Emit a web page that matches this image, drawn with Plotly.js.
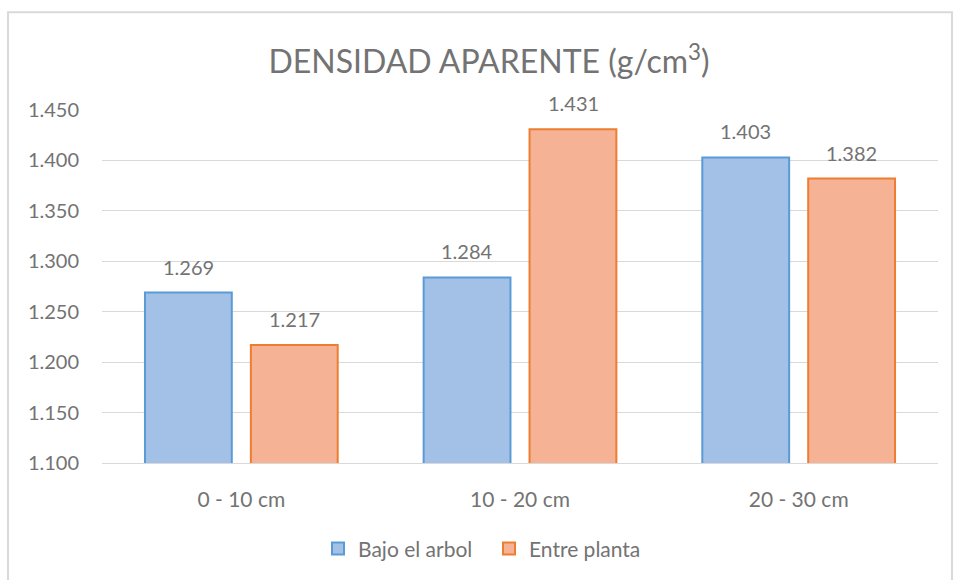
<!DOCTYPE html>
<html>
<head>
<meta charset="utf-8">
<script src="https://cdn.plot.ly/plotly-3.0.1.min.js"></script>
<style>html,body{margin:0;padding:0;background:#fff;}#chart{width:953px;height:580px;}</style>
</head>
<body>
<div id="chart"></div>
<script>
const categories = ["0 - 10 cm", "10 - 20 cm", "20 - 30 cm"];
const seriesNames = ["Bajo el arbol", "Entre planta"];
const bajoElArbol = [1.269, 1.284, 1.403];
const entrePlanta = [1.217, 1.431, 1.382];
const yTicks = [1.10, 1.15, 1.20, 1.25, 1.30, 1.35, 1.40, 1.45];

const font = "Lato, 'Open Sans', sans-serif";
const textColor = "#737373";

const traces = [
  {type: "bar", name: seriesNames[0], x: categories, y: bajoElArbol,
   marker: {color: "#a3c0e6", line: {color: "#5b9bd5", width: 2}}, hoverinfo: "y"},
  {type: "bar", name: seriesNames[1], x: categories, y: entrePlanta,
   marker: {color: "#f5b294", line: {color: "#ed7d31", width: 2}}, hoverinfo: "y"}
];

const annotations = [];
[bajoElArbol, entrePlanta].forEach((vals, si) => {
  vals.forEach((v, i) => {
    annotations.push({x: categories[i], y: v, xref: "x", yref: "y",
      text: v.toFixed(3), showarrow: false, xshift: si === 0 ? -53 : 53, yshift: 26,
      yanchor: "middle", font: {family: font, size: 20, color: textColor}});
  });
});

const layout = {
  width: 953, height: 580,
  margin: {l: 102, r: 15, t: 110, b: 116},
  paper_bgcolor: "#fff", plot_bgcolor: "#fff",
  title: {text: "DENSIDAD APARENTE (g/cm<sup>3</sup>)", x: 489/953, xref: "container", xanchor: "center",
    y: 1 - 62/580, yref: "container", yanchor: "middle",
    font: {family: font, size: 32, color: textColor}},
  barmode: "group", bargap: 0.24, bargroupgap: 0.18,
  xaxis: {type: "category", showgrid: false, showline: true, linecolor: "#d9d9d9", linewidth: 1,
    ticks: "", ticklabelstandoff: 18, tickfont: {family: font, size: 21, color: textColor}, fixedrange: true},
  yaxis: {range: [1.1, 1.45], tickvals: yTicks, tickformat: ".3f", showgrid: true, gridcolor: "#d9d9d9",
    gridwidth: 1, zeroline: false, showline: false, ticks: "", ticklabelstandoff: 22,
    tickfont: {family: font, size: 20, color: textColor}, fixedrange: true},
  showlegend: true,
  legend: {orientation: "h", x: (318-102)/836, xanchor: "left", y: -0.24, yanchor: "middle",
    font: {family: font, size: 21, color: textColor}, itemwidth: 30, entrywidth: 126, traceorder: "normal"},
  annotations: annotations,
  shapes: [{type: "rect", xref: "paper", yref: "paper", x0: (8-102)/836, x1: (952-102)/836,
    y0: -0.5, y1: 1 + (110-12)/354, line: {color: "#d9d9d9", width: 2}, fillcolor: "rgba(0,0,0,0)", layer: "below"}]
};

Plotly.newPlot("chart", traces, layout, {displayModeBar: false, staticPlot: true});
</script>
</body>
</html>
